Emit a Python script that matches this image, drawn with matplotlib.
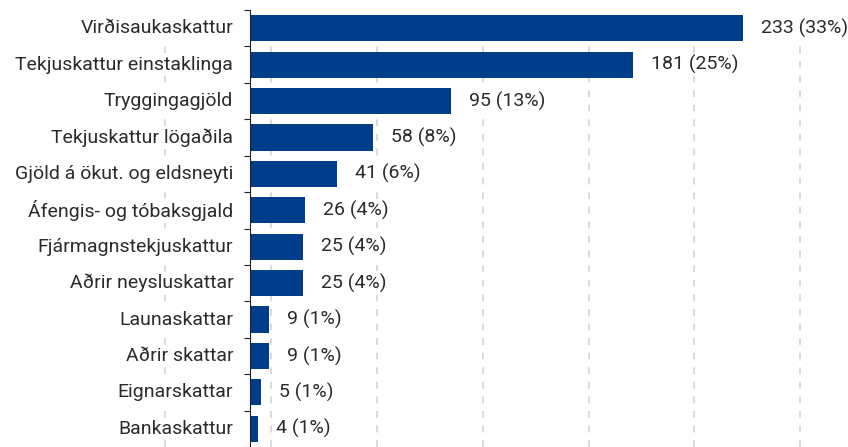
import numpy as np
import matplotlib.pyplot as plt

# tekjur ríkissjóðs eftir skattstofnum
categories = ['Virðisaukaskattur', 'Tekjuskattur einstaklinga', 'Tryggingagjöld',
              'Tekjuskattur lögaðila', 'Gjöld á ökut. og eldsneyti',
              'Áfengis- og tóbaksgjald', 'Fjármagnstekjuskattur',
              'Aðrir neysluskattar', 'Launaskattar', 'Aðrir skattar',
              'Eignarskattar', 'Bankaskattur']
values = [233, 181, 95, 58, 41, 26, 25, 25, 9, 9, 5, 4]
shares = [33, 25, 13, 8, 6, 4, 4, 4, 1, 1, 1, 1]
grid_x = [-40, 10, 60, 110, 160, 210, 260]

plt.rcParams['font.family'] = ['Roboto', 'DejaVu Sans']

fig = plt.figure(figsize=(8.48, 4.47), dpi=100)
ax = fig.add_axes([0, 0, 1, 437 / 447])

y = np.arange(len(categories))
ax.barh(y, values, height=0.72, color='#003d8a', zorder=2)

for gx in grid_x:
    ax.axvline(gx, color='#d9d9d9', lw=1.4, linestyle=(0, (3.5, 4)), zorder=0)

box = dict(facecolor='white', edgecolor='none', pad=1.5)
for i, (name, v, s) in enumerate(zip(categories, values, shares)):
    ax.annotate(name, (0, i), xytext=(-12, 0), textcoords='offset points',
                ha='right', va='center', fontsize=14,
                color='#2b2b2b', bbox=box, zorder=3)
    ax.annotate(f'{v} ({s}%)', (v, i), xytext=(13, 0), textcoords='offset points',
                ha='left', va='center', fontsize=14,
                color='#2b2b2b', bbox=box, zorder=3)

ax.set_xlim(-118.1, 282.6)
ax.set_ylim(len(categories) - 0.5, -0.5)

for side in ['top', 'right', 'bottom']:
    ax.spines[side].set_visible(False)
ax.spines['left'].set_position(('data', 0))
ax.spines['left'].set_color('#222222')
ax.set_xticks([])
ax.set_yticks(np.arange(len(categories) + 1) - 0.5)
ax.set_yticklabels([])
ax.tick_params(axis='y', length=4, color='#222222')

fig.savefig('out.png', dpi=100)
